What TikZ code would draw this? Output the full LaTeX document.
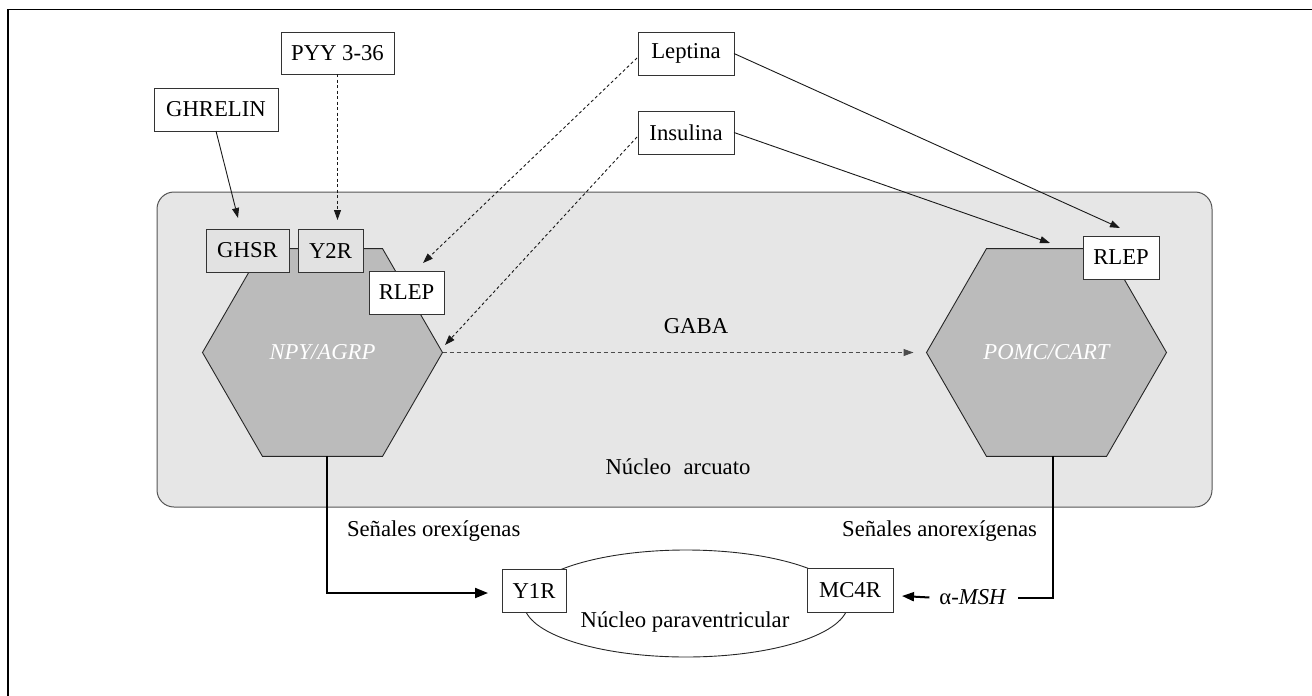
\documentclass[tikz,border=0pt]{standalone}
\usepackage{fontspec}
\setmainfont{Liberation Serif}
\usetikzlibrary{arrows.meta,shapes.geometric}
\definecolor{arcfill}{HTML}{E6E6E6}
\definecolor{arcedge}{HTML}{555555}
\definecolor{hexfill}{HTML}{BBBBBB}
\definecolor{rcpfill}{HTML}{E2E2E2}
\definecolor{edge}{HTML}{333333}
\newcommand{\fsz}{\fontsize{22.7pt}{27pt}\selectfont}
\begin{document}
\begin{tikzpicture}[x=1pt,y=-1pt,
  every node/.style={font=\fsz, inner sep=0pt, outer sep=0pt},
  lbl/.style={draw=edge, line width=1pt, fill=white, minimum height=43pt},
  rcp/.style={lbl, fill=rcpfill},
  hexa/.style={regular polygon, regular polygon sides=6, minimum size=240pt,
    draw=black!85, line width=0.9pt, fill=hexfill, text=white, font=\fsz\itshape},
  sarr/.style={line width=0.9pt, draw=black!90, -{Triangle[length=10pt,width=7pt]}},
  darr/.style={sarr, dash pattern=on 3pt off 2.5pt},
  garr/.style={line width=1pt, draw=black!70, dash pattern=on 4pt off 3pt, -{Triangle[length=10pt,width=7pt]}},
  barr/.style={line width=2pt, -{Triangle[length=13pt,width=10pt]}},
]
\useasboundingbox (0,0) rectangle (1312,696);
% outer frame (top and left edges)
\draw[line width=1.5pt] (8,696) -- (8,9.5) -- (1312,9.5);

% arcuate nucleus
\node[draw=arcedge, line width=1pt, fill=arcfill, rounded corners=17pt,
      minimum width=1055pt, minimum height=315pt] (arc) at (684.5,349.5) {};

% hexagons
\node[hexa] (npy) at (322.5,352.5) {NPY/AGRP};
\node[hexa] (pomc) at (1046.5,352.5) {POMC/CART};

% receptor boxes
\node[rcp, minimum width=83pt] (ghsr) at (247.5,250.5) {GHSR};
\node[rcp, minimum width=65pt] (y2r) at (330.5,250.5) {Y2R};
\node[lbl, minimum width=75pt] (rlepl) at (406.5,292.5) {RLEP};
\node[lbl, minimum width=76pt] (rlepr) at (1121,257.5) {RLEP};

% signal boxes
\node[lbl, minimum width=113pt, minimum height=42pt] (pyy) at (337.5,53) {PYY 3-36};
\node[lbl, minimum width=124pt] (ghrelin) at (216,109.5) {GHRELIN};
\node[lbl, minimum width=96pt] (leptina) at (686,53.5) {Leptina};
\node[lbl, minimum width=96pt] (insulina) at (686,132.5) {Insulina};

% labels
\node (gaba) at (696,326) {GABA};
\node (arclbl) at (678,467) {Núcleo\hspace{0.55em}arcuato};
\node[anchor=west] (orex) at (347,531) {Señales orexígenas};
\node[anchor=east] (anorex) at (1037,531) {Señales anorexígenas};

% paraventricular nucleus
\node[draw=black!85, line width=0.9pt, ellipse, minimum width=324pt, minimum height=107pt] (pvn) at (686,603.5) {};
\node (pvnlbl) at (685,622) {Núcleo paraventricular};
\node[lbl, minimum width=64pt] (y1r) at (534,591) {Y1R};
\node[lbl, minimum width=86pt, minimum height=44pt] (mc4r) at (850,590) {MC4R};
\node (msh) at (973,597) {α-\textit{MSH}};

% target points
\coordinate (ghsrtip) at (238,218);
\coordinate (y2rtip) at (337.5,220);
\coordinate (leptail) at (637,58);
\coordinate (leptip) at (423,263);
\coordinate (instail) at (637,137);
\coordinate (instip) at (445,345);
\coordinate (lepRtip) at (1120,228);
\coordinate (insRtip) at (1050,243);

% connectors
\draw[sarr] (ghrelin.south) -- (ghsrtip);
\draw[darr] (pyy.south) -- (y2rtip);
\draw[darr] (leptail) -- (leptip);
\draw[darr] (instail) -- (instip);
\draw[sarr] (leptina.east) -- (lepRtip);
\draw[sarr] (insulina.east) -- (insRtip);
\draw[garr, shorten >=13pt] (npy.east) -- (pomc.west);
\draw[barr] ([xshift=4.5pt]npy.south) |- ([xshift=-14pt,yshift=-2pt]y1r.west);
\draw[line width=2pt] ([xshift=6.5pt]pomc.south) |- ([xshift=11pt,yshift=-0.5pt]msh.east);
\draw[line width=2pt, -{Triangle[length=12pt,width=9pt]}] ([xshift=-10pt,yshift=-0.5pt]msh.west) -- ([xshift=9pt,yshift=-6pt]mc4r.east);
\end{tikzpicture}
\end{document}
